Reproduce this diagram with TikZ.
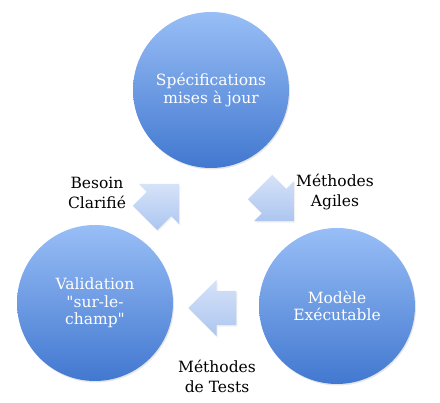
\documentclass[tikz,border=0pt]{standalone}
\usepackage{fontspec}
\setmainfont{DejaVu Serif}
\usepackage{tikz}
\usetikzlibrary{shapes.arrows,shadows,positioning}
\definecolor{circtop}{RGB}{152,190,246}
\definecolor{circbot}{RGB}{66,120,208}
\definecolor{arrtop}{RGB}{214,226,248}
\definecolor{arrbot}{RGB}{172,198,240}

\begin{document}
\begin{tikzpicture}[x=1pt,y=-1pt,
  stage/.style={circle, minimum size=156pt, inner sep=0pt,
                top color=circtop, bottom color=circbot,
                drop shadow={opacity=0.2, shadow xshift=1pt, shadow yshift=-1.5pt},
                text=white, align=center,
                font=\fontsize{15.5}{17.5}\selectfont},
  flow/.style={single arrow, minimum height=48pt, inner xsep=0pt, inner ysep=17pt,
               single arrow head extend=11pt,
               drop shadow={opacity=0.12, shadow xshift=1pt, shadow yshift=-1.5pt},
               shading=axis, top color=arrtop, bottom color=arrbot},
  lbl/.style={align=center, font=\fontsize{15.5}{20}\selectfont},
]
\useasboundingbox (0,0) rectangle (440,403);

% the three stages of the cycle
\node[stage] (specs) at (211,90)  {Spécifications\\mises à jour};
\node[stage] (valid) at (95,303)  {Validation\\\textquotedbl sur-le-\\champ\textquotedbl};
\node[stage] (model) at (337,306) {Modèle\\Exécutable};

% block arrows between the stages
\node[flow, rotate=45]  (toSpecs) at (156,207) {};
\node[flow, rotate=-45] (toModel) at (271,198) {};
\node[flow, rotate=180] (toValid) at (221,308) {};

% labels of the arrows
\node[lbl] (besoin)  at (97,193)  {Besoin\\Clarifié};
\node[lbl] (agiles)  at (335,192) {Méthodes\\Agiles};
\node[lbl] (tests)   at (217,376) {Méthodes\\de Tests};
\end{tikzpicture}
\end{document}
